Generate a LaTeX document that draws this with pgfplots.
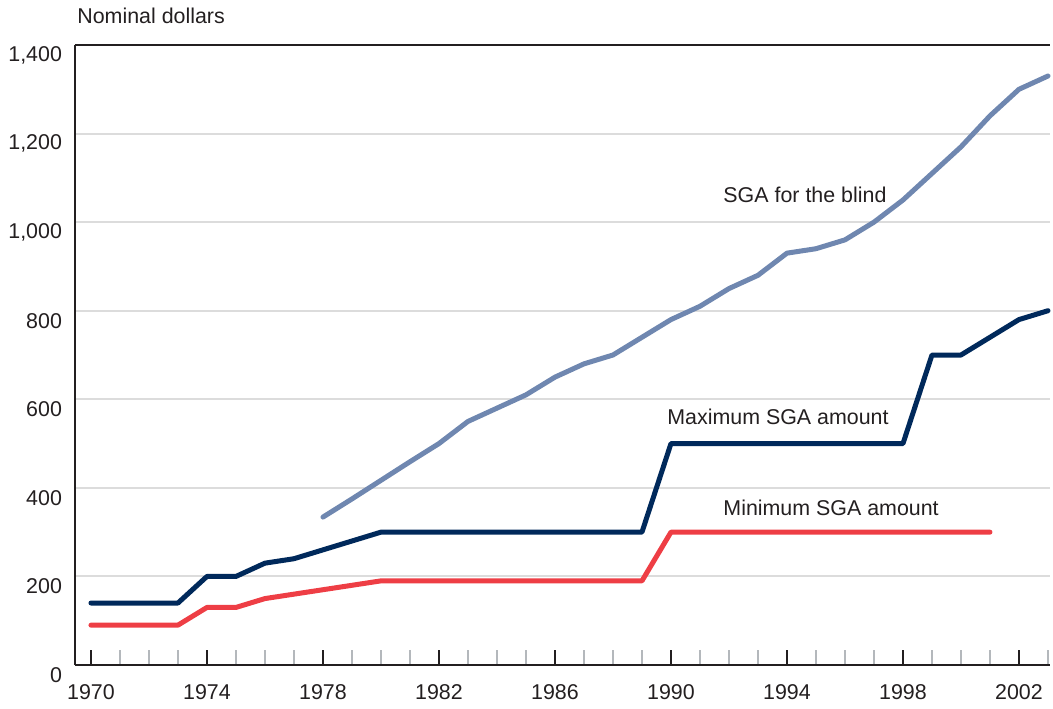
\documentclass[border=0pt]{standalone}
\usepackage{pgfplots}
\pgfplotsset{compat=1.18}
\usepackage{fontspec}
\setmainfont{Liberation Sans}
\definecolor{blindc}{HTML}{6F87B0}
\definecolor{maxc}{HTML}{00295B}
\definecolor{minc}{HTML}{EE3E45}
\definecolor{txt}{HTML}{231F20}
\definecolor{gridc}{HTML}{DCDCDC}
\definecolor{minort}{HTML}{B4B8BC}
\begin{document}
\begin{tikzpicture}
\begin{axis}[
  scale only axis,
  width=487.5pt, height=310pt,
  xmin=1969.45, xmax=2003.07,
  ymin=0, ymax=1400,
  axis x line*=bottom, axis y line*=left,
  axis line style={txt, line width=1pt},
  clip=false,
  font=\fontsize{10.7}{12}\selectfont,
  /pgf/number format/assume math mode=true,
  /pgf/number format/1000 sep={,},
  xtick={1970,1974,...,2002},
  minor xtick={1971,1972,1973,1975,1976,1977,1979,1980,1981,1983,1984,1985,1987,1988,1989,1991,1992,1993,1995,1996,1997,1999,2000,2001,2003},
  xticklabel style={/pgf/number format/1000 sep={}, yshift=-6pt, text=txt},
  tick align=inside,
  major tick length=7.5pt, minor tick length=7.5pt,
  x tick style={txt, line width=1pt},
  minor x tick style={minort, line width=1pt},
  ytick={0,200,...,1400},
  y tick style={draw=none},
  yticklabel style={xshift=-3pt, yshift=-5pt, text=txt},
  ymajorgrids,
  major grid style={gridc, line width=1pt},
  every axis plot/.append style={line width=2.5pt, line cap=round, line join=round},
]
\addplot[blindc] coordinates {
(1978,334) (1979,375) (1980,417) (1981,459) (1982,500) (1983,550) (1984,580)
(1985,610) (1986,650) (1987,680) (1988,700) (1989,740) (1990,780) (1991,810)
(1992,850) (1993,880) (1994,930) (1995,940) (1996,960) (1997,1000) (1998,1050)
(1999,1110) (2000,1170) (2001,1240) (2002,1300) (2003,1330)};
\addplot[maxc] coordinates {
(1970,140) (1971,140) (1972,140) (1973,140) (1974,200) (1975,200) (1976,230)
(1977,240) (1978,260) (1979,280) (1980,300) (1981,300) (1982,300) (1983,300)
(1984,300) (1985,300) (1986,300) (1987,300) (1988,300) (1989,300) (1990,500)
(1991,500) (1992,500) (1993,500) (1994,500) (1995,500) (1996,500) (1997,500)
(1998,500) (1999,700) (2000,700) (2001,740) (2002,780) (2003,800)};
\addplot[minc] coordinates {
(1970,90) (1971,90) (1972,90) (1973,90) (1974,130) (1975,130) (1976,150)
(1977,160) (1978,170) (1979,180) (1980,190) (1981,190) (1982,190) (1983,190)
(1984,190) (1985,190) (1986,190) (1987,190) (1988,190) (1989,190) (1990,300)
(1991,300) (1992,300) (1993,300) (1994,300) (1995,300) (1996,300) (1997,300)
(1998,300) (1999,300) (2000,300) (2001,300)};
\draw[txt, line width=1pt] (rel axis cs:0,1) -- (rel axis cs:1,1);
\node[text=txt] at (axis cs:1994.62,1061) {SGA for the blind};
\node[text=txt] at (axis cs:1993.69,560) {Maximum SGA amount};
\node[text=txt] at (axis cs:1995.52,354) {Minimum SGA amount};
\node[text=txt, anchor=base west, inner sep=0pt, xshift=1pt, yshift=10.5pt] at (rel axis cs:0,1) {Nominal dollars};
\end{axis}
\path[use as bounding box] ([xshift=-37.5pt,yshift=-21.5pt]current axis.south west) rectangle ([xshift=1.5pt,yshift=22.5pt]current axis.north east);
\end{tikzpicture}
\end{document}
